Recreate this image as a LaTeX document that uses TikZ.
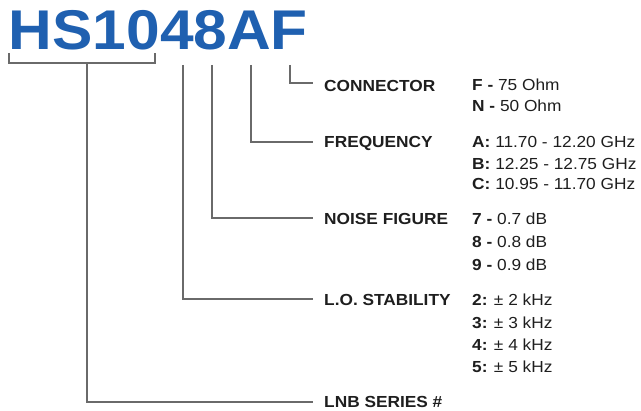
\documentclass[tikz,border=0pt]{standalone}
\usepackage{fontspec}
\setmainfont{Liberation Sans}
\definecolor{titleblue}{HTML}{1F60B0}
\definecolor{linegray}{HTML}{6A6A6A}
\definecolor{txt}{HTML}{1E1E1E}
\begin{document}
\begin{tikzpicture}[x=1pt,y=-1pt,
  conn/.style={draw=linegray,line width=1.2pt},
  lbl/.style={anchor=base west,inner sep=0pt,xscale=1.08,text=txt,font=\fontsize{16}{19}\selectfont\bfseries},
  val/.style={anchor=base west,inner sep=0pt,xscale=1.08,text=txt,font=\fontsize{16}{19}\selectfont},
  ttl/.style={anchor=base west,inner sep=0pt,xscale=1.08,text=titleblue,font=\fontsize{56}{60}\selectfont\bfseries}]
\useasboundingbox (0,0) rectangle (641,411);
\node[ttl] (title) at (8.6,50) {HS1048AF};
% connector start points under the title
\coordinate (bl) at (9,53);
\coordinate (br) at (155,53);
\coordinate (bm) at (87,63);
\coordinate (t4) at (183,65);
\coordinate (t8) at (212,65);
\coordinate (tA) at (251,65);
\coordinate (tF) at (290,65);
% connector end points
\coordinate (eF) at (313,83);
\coordinate (eA) at (313,142);
\coordinate (e8) at (313,218);
\coordinate (e4) at (313,299);
\coordinate (eS) at (313,402);
\draw[conn] (bl) |- (br |- bm) -- (br);
\draw[conn] (bm) |- (eS);
\draw[conn] (t4) |- (e4);
\draw[conn] (t8) |- (e8);
\draw[conn] (tA) |- (eA);
\draw[conn] (tF) |- (eF);
% labels
\node[lbl] (lcon) at (324,92) {CONNECTOR};
\node[lbl] (lfrq) at (324,148) {FREQUENCY};
\node[lbl] (lnf) at (324,225) {NOISE FIGURE};
\node[lbl] (llo) at (324,306) {L.O. STABILITY};
\node[lbl] (lser) at (324,408) {LNB SERIES \#};
% values
\node[val] (v1) at (472,91) {\textbf{F -} 75 Ohm};
\node[val] (v2) at (472,112) {\textbf{N -} 50 Ohm};
\node[val] (v3) at (472,148) {\textbf{A:} 11.70 - 12.20 GHz};
\node[val] (v4) at (472,170) {\textbf{B:} 12.25 - 12.75 GHz};
\node[val] (v5) at (472,190) {\textbf{C:} 10.95 - 11.70 GHz};
\node[val] (v6) at (472,225) {\textbf{7 -} 0.7 dB};
\node[val] (v7) at (472,248) {\textbf{8 -} 0.8 dB};
\node[val] (v8) at (472,271) {\textbf{9 -} 0.9 dB};
\node[val] (v9) at (472,306) {\textbf{2:} ± 2 kHz};
\node[val] (v10) at (472,329) {\textbf{3:} ± 3 kHz};
\node[val] (v11) at (472,351) {\textbf{4:} ± 4 kHz};
\node[val] (v12) at (472,373) {\textbf{5:} ± 5 kHz};
\end{tikzpicture}
\end{document}
